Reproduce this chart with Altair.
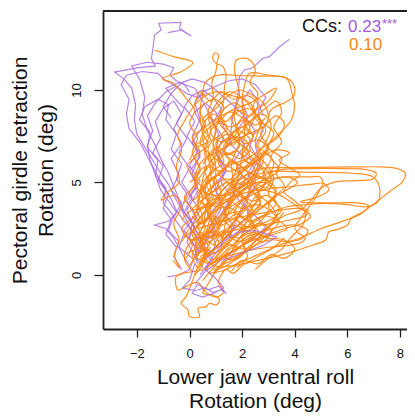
import altair as alt
import pandas as pd

# ---------------- data (in data units) ----------------
# purple trajectories
p01 = [(0.6,1.2),(0.3,2.0),(0.0,2.6),(-0.2,3.2),(-0.4,3.8),(-0.6,4.3),(-0.8,4.9),(-1.1,5.5),(-1.4,6.2),(-1.7,6.9),(-2.0,7.6),(-2.1,8.4),(-2.05,9.2),(-2.2,10.1),(-2.5,10.6),(-2.85,10.97),(-2.0,11.2),(-1.3,11.3),(-1.45,11.7),(-1.40,12.16),(-1.33,12.97),(-1.08,13.24),(-1.17,13.61),(-0.32,13.66),(-0.38,13.34),(0.06,12.92),(-0.32,13.24),(-0.83,13.10)]
p02 = [(0.9,0.8),(0.6,1.5),(0.3,2.2),(0.1,2.8),(-0.2,3.4),(-0.4,4.1),(-0.6,4.8),(-0.8,5.5),(-1.1,6.3),(-1.3,7.0),(-1.6,7.8),(-1.8,8.7),(-1.7,9.6),(-1.9,10.6),(-2.2,11.3),(-1.6,11.5),(-1.0,11.4),(-0.6,11.2),(-0.75,10.8),(-0.5,10.5),(-0.2,10.3),(0.0,9.9)]
p03 = [(3.8,12.74),(3.42,12.34),(3.04,11.8),(2.78,11.7),(2.4,11.2),(2.09,11.08),(1.9,10.72),(1.83,9.64),(1.64,8.54),(1.52,7.13),(1.9,6.6),(2.55,6.05),(2.3,5.4),(1.9,4.8),(1.5,4.0),(1.2,3.3),(0.9,2.6),(0.6,1.9),(0.3,1.2)]
p04 = [(0.0,0.5),(-0.3,1.2),(-0.6,2.0),(-0.9,2.5),(-1.33,2.7),(-0.8,2.9),(-0.5,3.4),(-0.8,4.0),(-1.1,4.6),(-1.3,5.4),(-1.5,6.2),(-1.6,7.0),(-1.4,7.8),(-1.6,8.6),(-1.3,9.3),(-0.9,9.9),(-0.5,10.2),(-0.1,9.8),(0.3,9.6),(0.6,9.8)]
p05 = [(-0.84,-0.1),(-0.4,0.0),(0.0,0.3),(0.2,1.0),(-0.1,1.8),(0.2,2.6),(-0.2,3.4),(0.1,4.2),(-0.3,5.0),(0.0,5.8),(-0.4,6.6),(-0.1,7.4),(-0.5,8.2),(-0.2,9.0),(-0.6,9.6),(-0.9,10.1),(-0.4,10.4),(0.2,10.1),(0.5,9.4),(0.8,8.6),(1.1,7.6),(1.0,6.6),(1.3,5.6),(1.0,4.6),(1.2,3.6),(0.8,2.6),(1.0,1.6),(0.6,0.8)]
p06 = [(0.2,0.6),(0.0,-0.3),(-0.27,-0.7),(0.2,-0.85),(0.6,-0.7),(0.9,-0.95),(1.2,-0.8),(1.4,-1.0),(1.1,-0.6),(0.7,-0.8),(0.3,-0.5),(0.1,-1.0),(0.5,-1.2),(0.9,-1.0),(1.3,-0.7),(1.0,-0.2),(0.6,0.3),(0.9,1.0),(1.3,1.8),(1.8,2.3),(2.5,2.4),(3.3,2.05),(2.8,1.6),(2.0,1.2),(1.3,0.8)]
p07 = [(1.5,2.0),(1.8,3.0),(2.2,4.0),(2.4,5.0),(2.7,6.0),(2.5,7.0),(2.8,7.8),(2.6,8.8),(2.9,9.6),(2.5,10.3),(2.0,10.6),(1.5,10.5),(1.0,10.2),(0.5,9.9),(0.2,9.3),(0.4,8.4),(0.1,7.5),(0.4,6.5),(0.1,5.5),(0.3,4.5),(-0.1,3.5),(0.2,2.5)]
p08 = [(-0.5,1.5),(-0.9,2.2),(-0.7,3.0),(-1.0,3.6),(-0.8,4.4),(-1.2,5.1),(-1.0,5.9),(-1.4,6.6),(-1.1,7.4),(-1.3,8.3),(-1.0,9.0),(-0.6,9.4),(-0.3,8.7),(-0.6,7.9),(-0.3,7.1),(-0.7,6.3),(-0.4,5.4),(-0.7,4.6),(-0.3,3.9),(-0.6,3.1),(-0.2,2.3),(-0.4,1.5),(0.1,0.9)]
p09 = [(0.4,0.0),(0.8,0.8),(0.5,1.6),(1.0,2.4),(0.7,3.2),(1.2,4.0),(0.9,4.8),(1.4,5.6),(1.1,6.4),(1.6,7.2),(1.3,8.0),(1.0,8.8),(0.6,9.3),(0.2,8.8),(0.5,8.0),(0.1,7.2),(0.4,6.4),(0.0,5.6),(0.3,4.8),(-0.1,4.0),(0.2,3.2),(-0.2,2.4),(0.2,1.5),(0.3,0.6)]
p10 = [(0.2,-0.5),(0.6,0.2),(1.2,0.8),(1.8,1.4),(2.4,1.9),(2.9,2.6),(2.5,3.2),(2.0,3.8),(1.6,4.6),(2.0,5.4),(1.7,6.2),(2.1,7.0),(1.8,7.8),(2.2,8.6),(2.0,9.4),(2.3,10.0),(2.6,9.4),(2.8,8.6)]
p11 = [(-0.3,0.3),(-0.6,1.0),(-0.4,1.8),(-0.8,2.4),(-0.6,3.2),(-1.0,3.9),(-0.9,4.7),(-1.3,5.4),(-1.2,6.2),(-1.6,6.9),(-1.5,7.7),(-1.9,8.4),(-1.7,9.1),(-1.2,9.5),(-0.8,9.2),(-0.9,8.4),(-0.5,7.6),(-0.7,6.8),(-0.3,6.0),(-0.5,5.2),(-0.1,4.4),(-0.3,3.6),(0.1,2.8),(0.0,2.0),(0.4,1.2)]
p12 = [(0.5,0.4),(0.2,1.1),(0.5,1.9),(0.1,2.7),(0.4,3.5),(0.0,4.3),(0.4,5.1),(0.0,5.9),(0.3,6.7),(-0.1,7.5),(0.2,8.3),(-0.2,9.1),(0.1,9.7),(0.5,10.0),(0.9,9.6),(1.2,9.0),(0.9,8.2),(1.3,7.4),(1.0,6.6),(1.4,5.8),(1.2,5.0),(1.6,4.2),(1.3,3.4),(1.7,2.6),(1.2,1.8),(0.8,1.1)]
p13 = [(-0.7,8.5),(-1.0,9.1),(-0.7,9.8),(-0.3,10.4),(0.1,10.6),(0.6,10.4),(1.0,10.0),(1.4,9.5),(1.8,9.0),(2.2,8.4),(2.5,7.8),(2.3,7.0),(2.6,6.3),(2.2,5.5),(2.5,4.7),(2.0,4.0),(2.3,3.2),(1.8,2.6),(1.4,2.0),(0.9,1.4),(0.5,0.9)]
p14 = [(0.4,1.8),(0.1,2.4),(-0.2,2.9),(-0.5,3.5),(-0.7,4.1),(-1.0,4.8),(-1.3,5.6),(-1.6,6.4),(-1.9,7.2),(-2.3,7.9),(-2.4,8.7),(-2.3,9.5),(-2.6,10.3),(-2.4,10.8),(-1.8,11.0),(-1.2,10.9),(-0.9,10.5),(-0.5,10.2)]

# orange trajectories
o01 = [(0.6,2.0),(0.9,3.0),(1.3,4.2),(1.8,5.0),(2.4,5.6),(2.8,5.77),(3.6,5.8),(4.9,5.82),(6.2,5.84),(7.3,5.84),(7.9,5.75),(8.2,5.5),(8.1,5.05),(7.7,4.6),(7.2,4.05),(6.6,3.42),(6.15,3.06),(6.0,2.7),(5.6,2.45),(5.3,2.34),(5.17,1.89),(4.7,1.62),(3.7,1.17),(2.4,0.72),(1.6,0.5),(1.1,0.45),(0.7,0.7),(0.5,1.2)]
o02 = [(0.2,1.5),(0.5,2.6),(1.0,3.6),(1.6,4.6),(2.2,5.2),(3.0,5.58),(4.5,5.55),(6.2,5.5),(6.97,5.31),(7.22,4.77),(7.16,3.96),(6.72,3.69),(6.0,3.8),(5.2,3.87),(4.4,3.8),(3.7,3.69),(3.0,3.3),(2.4,2.8),(1.8,2.2),(1.2,1.6),(0.7,1.2),(0.4,1.0)]
o03 = [(0.4,0.5),(0.8,1.8),(1.3,3.0),(2.0,4.0),(2.8,4.6),(3.8,4.77),(4.6,4.9),(5.1,4.95),(5.3,4.6),(5.0,4.3),(4.6,4.1),(4.2,3.95),(4.8,3.9),(5.6,3.9),(6.4,3.9),(6.8,3.75),(6.5,3.3),(5.8,2.9),(5.0,2.5),(4.2,2.0),(3.4,1.6),(2.6,1.1),(1.8,0.6),(1.2,0.2),(0.7,0.1)]
o04 = [(0.3,1.0),(0.9,2.5),(1.6,3.9),(2.3,4.8),(3.0,5.2),(3.8,5.3),(4.6,5.3),(4.95,5.31),(5.07,4.95),(4.95,4.6),(4.82,4.23),(4.5,3.6),(4.18,2.97),(4.0,2.6),(4.1,2.3),(4.4,2.0),(4.3,1.8),(3.8,1.6),(3.0,1.5),(2.2,1.3),(1.4,1.0),(0.8,0.8)]
o05 = [(1.0,2.5),(1.5,3.8),(2.2,4.8),(3.0,5.5),(3.5,5.7),(4.5,5.75),(5.8,5.75),(6.7,5.7),(7.1,5.5),(7.0,5.2),(6.4,5.1),(5.6,5.05),(5.0,4.7),(4.6,4.0),(4.2,3.5),(3.6,3.2),(3.0,2.6),(2.4,2.0),(1.8,1.4),(1.2,1.0)]
o06 = [(0.2,3.0),(0.4,4.5),(0.6,6.0),(0.5,7.5),(0.4,8.8),(0.5,9.8),(0.6,10.4),(1.1,10.8),(2.0,10.77),(3.0,10.75),(3.55,10.72),(3.85,10.5),(3.99,10.18),(3.95,9.64),(3.68,9.37),(3.17,9.01),(3.02,8.74),(3.05,8.6)]
o07 = [(1.0,2.0),(1.4,3.5),(1.8,5.0),(2.0,6.5),(2.1,8.0),(2.0,9.4),(2.1,10.3),(2.28,10.9),(3.0,10.8),(3.68,10.63),(3.8,10.36),(3.9,9.8),(3.99,9.19),(3.87,8.38),(3.42,7.66),(3.04,7.12),(2.79,6.49),(2.6,5.9),(2.4,5.2),(2.2,4.3),(1.9,3.4),(1.5,2.5),(1.1,1.8)]
o08 = [(-1.33,12.16),(-0.6,11.8),(0.13,11.48),(-0.3,11.0),(-1.03,10.6),(-0.65,10.4),(-0.38,10.0),(-0.1,9.5),(0.2,8.9),(0.0,8.2),(0.3,7.4),(0.1,6.6),(0.4,5.8),(0.2,5.0),(0.5,4.2),(0.3,3.4),(0.6,2.6),(0.4,1.8),(0.7,1.0)]
o09 = [(0.5,2.5),(0.7,4.0),(1.0,5.5),(0.9,7.0),(1.1,8.4),(1.3,9.46),(1.33,10.18),(1.39,10.72),(1.27,11.26),(1.01,11.44),(0.88,11.7),(0.95,12.0),(1.1,11.9),(1.05,11.5),(1.0,11.0),(0.85,10.4),(0.9,9.6),(0.7,8.8),(0.8,7.8),(0.6,6.8),(0.8,5.8),(0.6,4.6),(0.8,3.4),(0.6,2.2)]
o10 = [(1.2,1.5),(1.4,3.0),(1.7,4.6),(1.6,6.0),(1.9,7.3),(1.7,8.6),(1.9,9.8),(1.78,10.54),(1.71,11.19),(1.78,11.62),(2.16,11.71),(2.41,11.45),(2.5,11.0),(2.3,10.4),(2.6,9.8),(2.4,9.0),(2.7,8.2),(2.5,7.2),(2.8,6.2),(2.5,5.2),(2.6,4.2),(2.2,3.2),(2.0,2.2),(1.6,1.4)]
o11 = [(0.0,0.5),(0.3,1.4),(0.1,2.3),(0.5,3.1),(0.3,4.0),(0.8,4.7),(0.6,5.6),(1.1,6.3),(0.9,7.2),(1.4,7.9),(1.2,8.7),(1.7,9.3),(2.1,8.8),(1.8,8.0),(2.3,7.3),(2.0,6.4),(2.5,5.7),(2.2,4.8),(2.7,4.0),(2.3,3.1),(2.6,2.3),(2.0,1.6),(1.4,1.1),(0.8,0.6)]
o12 = [(0.2,0.0),(0.6,0.9),(0.4,1.9),(0.9,2.6),(0.7,3.6),(1.2,4.4),(1.0,5.3),(1.5,6.1),(1.3,7.0),(1.8,7.7),(1.6,8.5),(2.2,9.0),(2.6,8.6),(2.9,7.8),(2.6,7.0),(3.1,6.3),(2.8,5.4),(3.3,4.6),(3.0,3.7),(3.4,2.9),(2.9,2.1),(2.3,1.4),(1.6,0.8),(0.9,0.3)]
o13 = [(-0.2,0.8),(0.1,1.6),(-0.3,2.5),(0.2,3.3),(-0.2,4.2),(0.3,5.0),(-0.1,5.9),(0.4,6.6),(0.1,7.4),(0.6,8.1),(0.4,8.9),(0.9,9.5),(1.3,9.1),(1.1,8.3),(1.5,7.5),(1.3,6.6),(1.8,5.9),(1.6,5.0),(2.0,4.2),(1.7,3.3),(2.0,2.5),(1.5,1.8),(1.0,1.2),(0.4,0.9)]
o14 = [(0.5,-0.3),(0.9,0.4),(1.4,1.2),(1.9,2.0),(2.5,2.6),(3.1,3.0),(3.5,3.5),(3.2,4.1),(3.6,4.8),(3.3,5.5),(3.5,6.3),(3.0,6.9),(3.2,7.7),(2.7,8.3),(2.4,8.9),(2.0,9.6),(1.5,9.9),(1.1,9.4),(0.8,8.6),(1.0,7.7),(0.7,6.8),(0.9,5.8),(0.5,4.9),(0.7,3.8),(0.3,2.8),(0.5,1.8),(0.2,0.8)]
o15 = [(0.8,1.5),(0.4,0.7),(-0.13,-1.17),(-0.32,-1.53),(-0.06,-1.89),(0.0,-2.25),(0.38,-2.25),(0.32,-1.8),(0.63,-1.71),(0.76,-1.53),(1.01,-1.62),(1.14,-1.35),(0.89,-1.08),(0.51,-0.99),(0.7,-0.5),(1.0,0.2),(1.5,0.9),(2.0,1.6),(2.6,2.2),(3.2,2.8),(3.6,3.4)]
o16 = [(1.5,1.5),(1.0,0.8),(0.5,0.3),(-0.25,0.09),(-0.51,-0.09),(-0.44,-0.81),(-0.1,-0.6),(0.3,-0.4),(0.6,-0.9),(1.0,-1.2),(1.3,-0.9),(1.1,-0.4),(1.4,0.3),(1.65,0.09),(2.0,0.5),(2.6,0.99),(3.2,1.5),(3.6,2.0)]
o17 = [(-0.63,0.81),(-0.38,0.36),(-0.57,1.08),(-0.4,1.9),(-0.6,2.8),(-0.35,3.6),(-0.55,4.3),(-1.08,4.05),(-0.9,4.4),(-0.4,5.0),(-0.5,5.9),(-0.3,6.8),(-0.45,7.6),(-0.2,8.3),(0.1,9.0),(0.5,9.6),(1.0,9.9),(1.6,9.7),(2.2,9.4),(2.5,8.8),(2.3,8.0)]
o18 = [(0.0,1.9),(0.8,2.1),(1.6,2.4),(2.4,2.6),(3.2,2.8),(3.9,3.0),(4.4,3.2),(4.5,3.5),(4.1,3.6),(3.4,3.5),(2.6,3.3),(1.8,3.1),(1.0,2.8),(0.3,2.5)]
o19 = [(0.1,3.5),(0.9,3.8),(1.8,4.3),(2.7,4.6),(3.3,4.4),(3.8,4.0),(4.2,3.6),(4.6,3.2),(4.3,2.8),(3.6,2.5),(2.8,2.1),(2.0,1.6),(1.3,1.0),(0.8,0.6),(0.3,0.9)]
o20 = [(0.5,6.0),(1.0,6.8),(1.6,7.6),(2.2,8.2),(2.8,8.9),(3.3,9.4),(3.5,8.8),(3.2,8.0),(3.5,7.2),(3.1,6.4),(3.4,5.7),(2.8,5.2),(2.2,5.6),(1.6,6.2),(1.2,5.5),(0.6,5.0),(0.9,4.2),(0.4,3.5)]
o21 = [(2.5,0.3),(3.0,0.9),(3.5,1.4),(3.9,2.1),(4.3,2.7),(4.4,3.4),(4.0,4.0),(3.6,4.5),(3.9,5.1),(4.2,5.4),(3.8,5.8),(3.4,6.2),(3.8,6.6),(3.3,6.76),(2.9,6.5),(2.4,6.0),(1.8,5.3),(1.2,4.5),(0.8,3.6)]
o22 = [(0.2,7.0),(0.7,7.6),(0.5,8.4),(1.0,9.0),(1.4,9.6),(1.9,10.0),(2.4,9.7),(2.8,9.3),(3.0,8.5),(2.7,7.6),(3.0,6.9),(2.6,6.1),(2.9,5.3),(2.4,4.6),(2.7,3.8),(2.2,3.1),(2.5,2.3),(1.9,1.8),(1.3,2.2),(0.9,1.6)]
o23 = [(0.3,0.3),(0.7,1.1),(1.1,1.7),(0.9,2.5),(1.4,3.2),(1.2,4.0),(1.7,4.5),(2.1,5.1),(1.8,5.8),(2.3,6.4),(2.0,7.0),(1.5,7.4),(1.1,6.9),(1.3,6.1),(0.8,5.5),(1.0,4.7),(0.5,4.1),(0.7,3.2),(0.2,2.4),(0.4,1.5)]
o24 = [(0.9,0.0),(1.3,0.7),(1.9,1.1),(2.4,1.7),(2.9,2.4),(3.3,3.2),(3.0,3.9),(2.6,4.4),(2.9,5.0),(2.4,5.5),(1.9,5.2),(1.4,4.8),(1.0,4.1),(0.7,3.3),(0.9,2.6),(0.5,1.9),(0.7,1.0)]
o25 = [(-0.3,3.0),(0.2,3.7),(0.7,4.3),(1.3,4.9),(1.9,5.6),(2.5,6.4),(2.9,7.2),(3.1,8.1),(2.8,8.7),(2.3,8.3),(1.9,7.6),(1.4,7.0),(0.9,6.3),(0.5,5.5),(0.1,4.7),(-0.2,3.9)]
o26 = [(0.6,0.2),(1.0,1.0),(1.6,1.9),(2.2,2.9),(2.7,3.6),(3.2,4.2),(3.7,4.6),(4.1,5.0),(3.7,5.3),(3.1,5.1),(2.5,4.6),(1.9,4.0),(1.3,3.4),(0.8,2.7),(0.4,1.8),(0.1,1.1),(0.3,0.4)]
o27 = [(1.8,0.4),(2.2,1.0),(2.0,1.8),(2.5,2.5),(2.2,3.4),(2.7,4.2),(2.3,5.0),(1.8,5.6),(1.3,6.0),(0.8,6.5),(0.4,7.2),(0.7,7.9),(1.2,8.3),(1.5,7.8),(1.9,7.1),(2.4,6.6),(2.9,6.0),(3.2,5.2),(3.0,4.4),(3.4,3.6),(3.1,2.8),(2.6,2.0),(2.2,1.3)]
o28 = [(0.1,0.2),(-0.2,0.9),(0.0,1.7),(0.5,2.0),(1.0,1.6),(1.5,2.2),(1.9,2.8),(2.4,3.3),(2.9,3.8),(3.3,4.3),(3.0,4.9),(2.5,5.0),(2.0,4.6),(1.5,4.1),(1.1,3.6),(0.6,3.0),(0.2,2.5),(-0.2,2.0)]
o29 = [(0.4,4.5),(0.9,5.2),(1.5,5.9),(2.2,6.3),(2.8,6.9),(3.4,7.5),(3.6,8.2),(3.3,8.6),(2.8,8.0),(2.2,7.6),(1.6,7.1),(1.0,6.6),(0.5,6.2),(0.2,5.4)]
o30 = [(1.2,0.6),(1.6,1.3),(2.1,2.0),(2.7,2.3),(3.4,2.6),(4.0,2.7),(4.5,2.4),(4.3,2.0),(3.7,1.8),(3.1,1.9),(2.5,1.6),(1.9,1.0),(1.4,0.5),(0.9,0.2)]
o31 = [(0.0,5.0),(0.4,5.6),(0.2,6.4),(0.7,7.0),(0.5,7.8),(1.0,8.4),(1.6,8.9),(2.3,9.3),(2.9,9.8),(3.3,10.1),(3.0,9.4),(2.5,8.9),(2.1,8.2),(2.4,7.5),(2.1,6.7),(2.6,6.0),(2.3,5.2),(1.8,4.6),(1.2,4.3),(0.6,4.4)]
o32 = [(-0.1,1.2),(0.4,1.5),(0.9,1.9),(1.5,2.6),(2.1,3.5),(2.6,4.4),(3.0,5.3),(3.2,6.1),(2.8,6.6),(2.3,6.0),(1.8,5.3),(1.4,4.5),(0.9,3.8),(0.4,3.1),(0.0,2.5),(-0.3,1.8)]
o33 = [(0.8,2.0),(1.1,2.6),(0.9,3.3),(1.4,3.7),(1.9,3.4),(2.2,3.9),(1.9,4.6),(2.4,5.0),(2.9,4.7),(3.1,5.3),(2.7,5.9),(2.2,6.1),(1.8,6.7),(1.3,6.5),(1.0,7.1),(1.4,7.6),(1.9,7.4),(2.3,7.9),(2.0,8.5),(1.5,8.8),(1.1,8.3),(0.7,8.6)]
o34 = [(0.3,2.0),(0.8,2.3),(1.2,2.1),(1.7,2.7),(2.2,2.4),(2.7,2.9),(3.0,3.5),(2.5,3.8),(2.0,3.6),(1.5,4.0),(1.0,3.7),(0.6,4.2),(0.9,4.8),(1.4,5.2),(2.0,4.9),(2.6,5.3),(3.1,5.0)]
o35 = [(0.1,4.0),(0.5,4.6),(0.2,5.3),(0.7,5.9),(1.2,5.6),(1.6,6.1),(2.1,5.8),(2.6,6.3),(3.0,6.8),(2.6,7.3),(2.1,7.1),(1.7,7.5),(1.2,7.2),(0.8,7.7),(1.1,8.2),(1.6,8.0),(2.1,8.4),(2.5,8.1),(2.9,8.5)]
o36 = [(1.0,0.9),(1.5,1.6),(2.1,1.4),(2.6,1.9),(3.2,2.2),(3.7,2.5),(3.3,3.0),(2.8,3.2),(2.3,2.9),(1.8,3.3),(1.3,2.9),(0.9,3.2),(0.5,2.8),(0.2,3.3),(0.6,3.8),(1.1,4.2),(1.6,3.9)]
o37 = [(0.0,6.2),(0.3,6.9),(0.8,7.3),(0.5,8.0),(0.9,8.7),(1.4,8.3),(1.8,8.9),(2.3,8.6),(2.6,9.2),(2.2,9.7),(1.7,9.5),(1.2,9.9),(0.8,9.4),(0.4,9.9),(0.2,9.2)]
o38 = [(1.6,0.2),(2.0,0.8),(2.6,0.6),(3.1,1.1),(3.6,0.9),(4.0,1.4),(3.6,1.9),(3.0,2.0),(2.4,2.3),(1.8,2.0),(1.3,2.4),(0.8,2.0),(0.4,2.3),(0.1,1.8)]
o39 = [(0.4,1.2),(0.7,1.6),(0.5,2.1),(0.9,2.4),(1.3,2.0),(1.6,2.5),(1.3,3.0),(1.7,3.4),(2.1,3.0),(2.4,3.5),(2.1,4.1),(1.7,4.3),(1.3,3.9),(0.9,4.3),(0.6,3.8),(0.3,4.3),(0.6,4.9),(1.0,5.3)]
o40 = [(1.0,4.5),(1.4,5.0),(1.9,4.7),(2.3,5.2),(2.0,5.8),(1.5,5.6),(1.1,6.0),(1.4,6.6),(1.9,6.3),(2.3,6.8),(2.0,7.4),(1.6,7.0),(1.2,7.5)]
o41 = [(0.2,1.0),(0.6,1.4),(1.0,1.2),(1.4,1.7),(1.9,1.5),(2.3,2.0),(2.8,1.8),(3.1,2.4),(2.7,2.8),(2.2,2.6),(1.7,3.0),(1.2,2.7),(0.8,3.1),(0.4,2.8),(0.1,3.2)]
o42 = [(0.6,5.2),(1.0,5.8),(0.7,6.4),(1.1,6.9),(1.5,6.5),(1.9,7.0),(1.6,7.6),(2.0,8.0),(2.4,7.6),(2.7,8.0),(2.4,8.6)]
o43 = [(1.3,1.0),(1.7,0.8),(2.1,1.3),(2.0,2.1),(2.4,2.9),(2.9,3.3),(3.3,3.9),(2.9,4.3),(2.4,4.0),(1.9,4.4),(1.5,4.9),(1.1,5.4),(0.7,5.0),(0.5,4.4)]

purple_tracks = [p01, p02, p03, p04, p05, p07, p08, p09, p10, p11, p12, p13, p14]
purple_top_tracks = [p06]
orange_tracks = [o01, o02, o03, o04, o05, o06, o07, o08, o09, o10, o11,
                 o12, o13, o14, o15, o16, o17, o18, o19, o20, o21, o22,
                 o23, o24, o25, o26, o27, o28, o29, o30, o31, o32, o33,
                 o34, o35, o36, o37, o38, o39, o40, o41, o42, o43]

x_ticks = [-2, 0, 2, 4, 6, 8]
y_ticks = [0, 5, 10]
cc_purple = "0.23"
cc_orange = "0.10"
cc_stars = "***"

PURPLE = "#a865dd"
PURPLE_TXT = "#a35bd6"
ORANGE = "#ff8510"
FONT = "Liberation Sans"


def to_frame(tracks, prefix):
    rows = []
    for ti, tr in enumerate(tracks):
        for k, (x, y) in enumerate(tr):
            rows.append({"track": f"{prefix}{ti}", "k": k, "x": x, "y": y})
    return pd.DataFrame(rows)


df_p = to_frame(purple_tracks, "p")
df_p2 = to_frame(purple_top_tracks, "q")
df_o = to_frame(orange_tracks, "o")

W, H = 304, 318
xs = alt.Scale(domain=[-3.29, 8.269], nice=False, zero=False)
ys = alt.Scale(domain=[-2.92, 14.27], nice=False, zero=False)

x_axis = alt.Axis(values=x_ticks, grid=False, tickSize=8, tickWidth=1.3,
                  tickColor="#222", domainColor="#222", domainWidth=1.8,
                  labelFont=FONT, labelFontSize=13, labelColor="#111",
                  labelPadding=10,
                  title=["Lower jaw ventral roll", "Rotation (deg)"],
                  titleFont=FONT, titleFontSize=21, titleFontWeight="normal",
                  titleColor="#111", titlePadding=6, titleLineHeight=24)
y_axis = alt.Axis(values=y_ticks, grid=False, tickSize=9, tickWidth=1.3,
                  tickColor="#222", domainColor="#222", domainWidth=1.8,
                  labelFont=FONT, labelFontSize=13, labelColor="#111",
                  labelAngle=270, labelAlign="center", labelBaseline="bottom",
                  labelPadding=11,
                  title=["Pectoral girdle retraction", "Rotation (deg)"],
                  titleFont=FONT, titleFontSize=21, titleFontWeight="normal",
                  titleColor="#111", titlePadding=14, titleLineHeight=26)


def lines(df, color, interp, op):
    return alt.Chart(df).mark_line(color=color, strokeWidth=1.2, opacity=op,
                                   interpolate=interp, clip=True).encode(
        x=alt.X("x:Q", scale=xs, axis=x_axis),
        y=alt.Y("y:Q", scale=ys, axis=y_axis),
        detail="track:N",
        order="k:Q",
    )


purple_layer = lines(df_p, PURPLE, "linear", 0.8)
orange_layer = lines(df_o, ORANGE, "catmull-rom", 0.9)
purple_top = lines(df_p2, PURPLE, "linear", 0.8)

top_border = alt.Chart(pd.DataFrame({"a": [0]})).mark_rule(
    color="#222", strokeWidth=1.8).encode(
    x=alt.value(0), x2=alt.value(W), y=alt.value(0))

txt = pd.DataFrame({"a": [0]})
cc_label = alt.Chart(txt).mark_text(text="CCs:", font=FONT, fontSize=18,
                                    color="#111", align="right",
                                    baseline="alphabetic").encode(
    x=alt.value(239), y=alt.value(21))
cc_p = alt.Chart(txt).mark_text(text=cc_purple, font=FONT, fontSize=17,
                                color=PURPLE_TXT, align="left",
                                baseline="alphabetic").encode(
    x=alt.value(245), y=alt.value(21))
cc_s = alt.Chart(txt).mark_text(text=cc_stars, font=FONT, fontSize=13,
                                color=PURPLE_TXT, align="left",
                                baseline="alphabetic").encode(
    x=alt.value(279), y=alt.value(17))
cc_o = alt.Chart(txt).mark_text(text=cc_orange, font=FONT, fontSize=17,
                                color=ORANGE, align="left",
                                baseline="alphabetic").encode(
    x=alt.value(246), y=alt.value(39))

chart = alt.layer(purple_layer, orange_layer, purple_top, top_border,
                  cc_label, cc_p, cc_s, cc_o).properties(
    width=W, height=H,
    autosize=alt.AutoSizeParams(type="none"),
    padding={"left": 95, "top": 3, "right": 0, "bottom": 83},
).configure_view(stroke=None)

chart.save("out.html", embed_options={"renderer": "svg", "actions": False})
